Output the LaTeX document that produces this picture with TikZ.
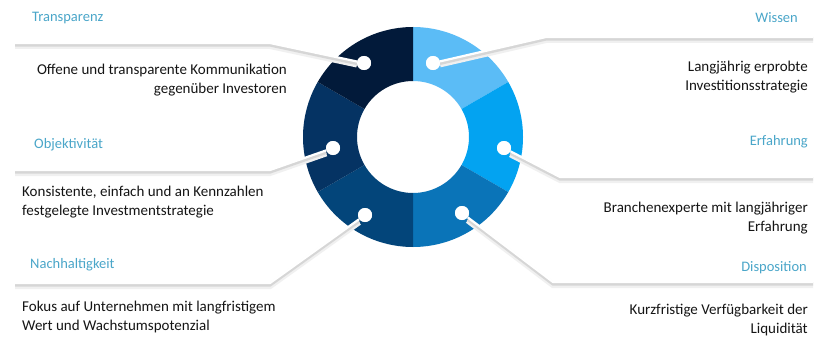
\documentclass[tikz,border=0pt]{standalone}
\usepackage{fontspec}
\setmainfont{Carlito}
\definecolor{titlecol}{HTML}{4AA6C9}
\definecolor{bodycol}{HTML}{151515}
\definecolor{cW}{HTML}{5BBCF6}
\definecolor{cE}{HTML}{03A3F1}
\definecolor{cD}{HTML}{0A74B8}
\definecolor{cN}{HTML}{03457A}
\definecolor{cO}{HTML}{053363}
\definecolor{cT}{HTML}{021A3A}
\begin{document}
\begin{tikzpicture}[x=1pt,y=-1pt,
  title/.style={font=\fontsize{14.5}{16}\selectfont, text=titlecol, inner sep=0pt},
  body/.style={font=\fontsize{15}{18.5}\selectfont, text=bodycol, inner sep=0pt},
  dotnode/.style={circle, fill=white, minimum size=14pt, inner sep=0pt},
  conn/.style={draw=white, line width=2.2pt, line join=round,
    preaction={draw=black!6, line width=6pt, transform canvas={yshift=-3pt}},
    preaction={draw=black!16, line width=3.2pt, transform canvas={yshift=-2pt}}}
]
\useasboundingbox (0,0) rectangle (824,345);
\fill[white] (0,0) rectangle (824,345);

% ring
\begin{scope}[shift={(413,137)}]
  \fill[cW] (-90:110) arc[start angle=-90,end angle=-30,radius=110] -- (-30:56) arc[start angle=-30,end angle=-90,radius=56] -- cycle;
  \fill[cE] (-30:110) arc[start angle=-30,end angle=30,radius=110] -- (30:56) arc[start angle=30,end angle=-30,radius=56] -- cycle;
  \fill[cD] (30:110) arc[start angle=30,end angle=90,radius=110] -- (90:56) arc[start angle=90,end angle=30,radius=56] -- cycle;
  \fill[cN] (90:110) arc[start angle=90,end angle=150,radius=110] -- (150:56) arc[start angle=150,end angle=90,radius=56] -- cycle;
  \fill[cO] (150:110) arc[start angle=150,end angle=210,radius=110] -- (210:56) arc[start angle=210,end angle=150,radius=56] -- cycle;
  \fill[cT] (210:110) arc[start angle=210,end angle=270,radius=110] -- (270:56) arc[start angle=270,end angle=210,radius=56] -- cycle;
\end{scope}

% dots
\node[dotnode] (dt) at (364,63) {};
\node[dotnode] (dw) at (433,63) {};
\node[dotnode] (do) at (333,148) {};
\node[dotnode] (de) at (504,148) {};
\node[dotnode] (dn) at (365,215) {};
\node[dotnode] (dd) at (462,213) {};

% bend and end points
\coordinate (bt) at (270,43);  \coordinate (et) at (15,43);
\coordinate (bw) at (546,37);  \coordinate (ew) at (813,37);
\coordinate (bo) at (270,170); \coordinate (eo) at (15,170);
\coordinate (be) at (560,177); \coordinate (ee) at (813,177);
\coordinate (bn) at (270,283); \coordinate (en) at (15,283);
\coordinate (bd) at (553,282); \coordinate (ed) at (813,282);

% connectors
\draw[conn] (dt) -- (bt) -- (et);
\draw[conn] (dw) -- (bw) -- (ew);
\draw[conn] (do) -- (bo) -- (eo);
\draw[conn] (de) -- (be) -- (ee);
\draw[conn] (dn) -- (bn) -- (en);
\draw[conn] (dd) -- (bd) -- (ed);

% redraw dots on top
\foreach \d in {dt,dw,do,de,dn,dd} \fill[white] (\d) circle[radius=7pt];

% titles
\node[title, anchor=west] (tT) at (32,18) {Transparenz};
\node[title, anchor=east] (tW) at (798,18) {Wissen};
\node[title, anchor=west] (tO) at (34,145) {Objektivität};
\node[title, anchor=east] (tE) at (808,142) {Erfahrung};
\node[title, anchor=west] (tN) at (30,265) {Nachhaltigkeit};
\node[title, anchor=east] (tD) at (807,268) {Disposition};

% bodies
\node[body, anchor=east, align=right] (xT) at (287,80) {Offene und transparente Kommunikation\\gegenüber Investoren};
\node[body, anchor=east, align=right] (xW) at (808,77) {Langjährig erprobte\\Investitionsstrategie};
\node[body, anchor=west, align=left] (xO) at (22,202) {Konsistente, einfach und an Kennzahlen\\festgelegte Investmentstrategie};
\node[body, anchor=east, align=right] (xE) at (808,218) {Branchenexperte mit langjähriger\\Erfahrung};
\node[body, anchor=west, align=left] (xN) at (22,317) {Fokus auf Unternehmen mit langfristigem\\Wert und Wachstumspotenzial};
\node[body, anchor=east, align=right] (xD) at (808,320) {Kurzfristige Verfügbarkeit der\\Liquidität};
\end{tikzpicture}
\end{document}
